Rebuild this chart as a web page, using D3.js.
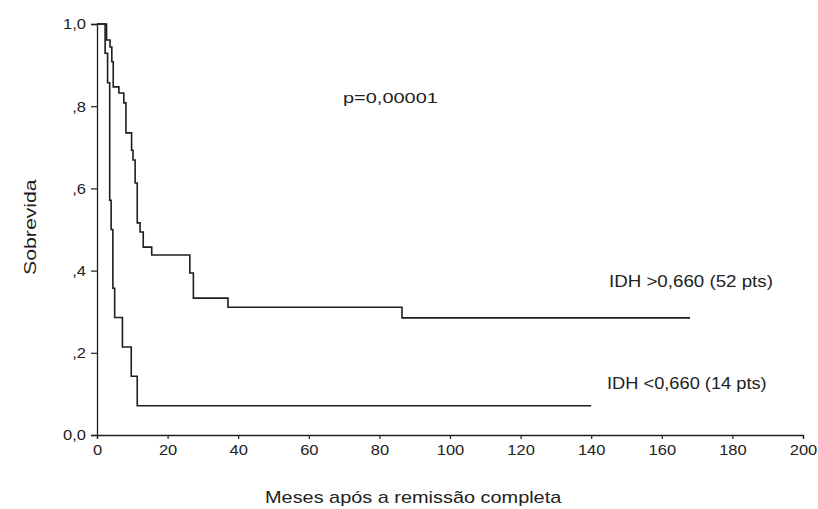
<!DOCTYPE html>
<html>
<head>
<meta charset="utf-8">
<script src="https://cdn.jsdelivr.net/npm/d3@7"></script>
<style>
  html, body { margin: 0; padding: 0; background: #fff; }
  svg { display: block; }
  text { font-family: "Liberation Sans", Arial, sans-serif; fill: #222; }
</style>
</head>
<body>
<svg id="chart" width="818" height="509"></svg>
<script>
// Kaplan-Meier survival after complete remission, split by IDH
const highTimes = [0, 2.7, 3.7, 4.2, 4.6, 6.2, 7.6, 8.2, 9.8, 10.2, 10.8, 11.4, 12.2, 13.1, 15.5, 26.3, 27.3, 37.1, 86.4];
const highSurv  = [1.0, 0.961, 0.944, 0.908, 0.847, 0.832, 0.808, 0.735, 0.693, 0.669, 0.613, 0.516, 0.494, 0.457, 0.438, 0.394, 0.333, 0.311, 0.285];
const highLastFollowUp = 168;

const lowTimes = [0, 2.3, 3.0, 3.6, 4.0, 4.5, 5.0, 7.2, 9.7, 11.4];
const lowSurv  = [1.0, 0.929, 0.857, 0.571, 0.5, 0.357, 0.286, 0.214, 0.143, 0.071];
const lowLastFollowUp = 140;

const xTicks = [0, 20, 40, 60, 80, 100, 120, 140, 160, 180, 200];
const yTicks = [0, 0.2, 0.4, 0.6, 0.8, 1.0];
const yTickLabels = ["0,0", ",2", ",4", ",6", ",8", "1,0"];

const seriesLabels = ["IDH >0,660 (52 pts)", "IDH <0,660 (14 pts)"];
const pValueText = "p=0,00001";
const xTitle = "Meses após a remissão completa";
const yTitle = "Sobrevida";

const svg = d3.select("#chart");
const ink = "#1e1e1e";

// widen glyphs horizontally by a factor, keeping the anchor
function widen(sel, factor) {
  sel.each(function () {
    const len = this.getComputedTextLength();
    d3.select(this)
      .attr("textLength", len * factor)
      .attr("lengthAdjust", "spacingAndGlyphs");
  });
  return sel;
}

const x = d3.scaleLinear().domain([0, 200]).range([97, 803]);
const y = d3.scaleLinear().domain([0, 1]).range([435, 24]);

// axes
const xAxis = svg.append("g")
  .attr("transform", `translate(0,${y(0)})`)
  .call(d3.axisBottom(x).tickValues(xTicks).tickSize(4).tickPadding(5).tickFormat(d3.format("d")));
const yAxis = svg.append("g")
  .attr("transform", `translate(${x(0)},0)`)
  .call(d3.axisLeft(y).tickValues(yTicks).tickSize(6).tickPadding(5)
    .tickFormat((d, i) => yTickLabels[i]));

[xAxis, yAxis].forEach(g => {
  g.select(".domain").attr("stroke", ink).attr("stroke-width", 1.3);
  g.selectAll(".tick line").attr("stroke", ink).attr("stroke-width", 1.2);
  g.selectAll(".tick text")
    .attr("fill", "#222")
    .style("font-family", "'Liberation Sans', Arial, sans-serif")
    .style("font-size", "15px");
  widen(g.selectAll(".tick text"), 1.1);
});

// survival step curves
function stepPoints(times, surv, last) {
  const pts = times.map((t, i) => [t, surv[i]]);
  pts.push([last, surv[surv.length - 1]]);
  return pts;
}
const line = d3.line()
  .x(d => x(d[0]))
  .y(d => y(d[1]))
  .curve(d3.curveStepAfter);

svg.append("path")
  .datum(stepPoints(highTimes, highSurv, highLastFollowUp))
  .attr("d", line)
  .attr("fill", "none")
  .attr("stroke", ink)
  .attr("stroke-width", 1.6);

svg.append("path")
  .datum(stepPoints(lowTimes, lowSurv, lowLastFollowUp))
  .attr("d", line)
  .attr("fill", "none")
  .attr("stroke", ink)
  .attr("stroke-width", 1.6);

// annotations
svg.append("text")
  .attr("x", 343).attr("y", 103)
  .style("font-size", "15px")
  .text(pValueText)
  .call(widen, 1.33);

svg.append("text")
  .attr("x", 609).attr("y", 287)
  .style("font-size", "16px")
  .text(seriesLabels[0])
  .call(widen, 1.17);

svg.append("text")
  .attr("x", 607).attr("y", 389)
  .style("font-size", "16px")
  .text(seriesLabels[1])
  .call(widen, 1.14);

// axis titles
svg.append("text")
  .attr("x", 265).attr("y", 503)
  .style("font-size", "17px")
  .text(xTitle)
  .call(widen, 1.17);

svg.append("text")
  .attr("transform", "translate(36,275) rotate(-90)")
  .style("font-size", "17px")
  .text(yTitle)
  .call(widen, 1.25);
</script>
</body>
</html>
